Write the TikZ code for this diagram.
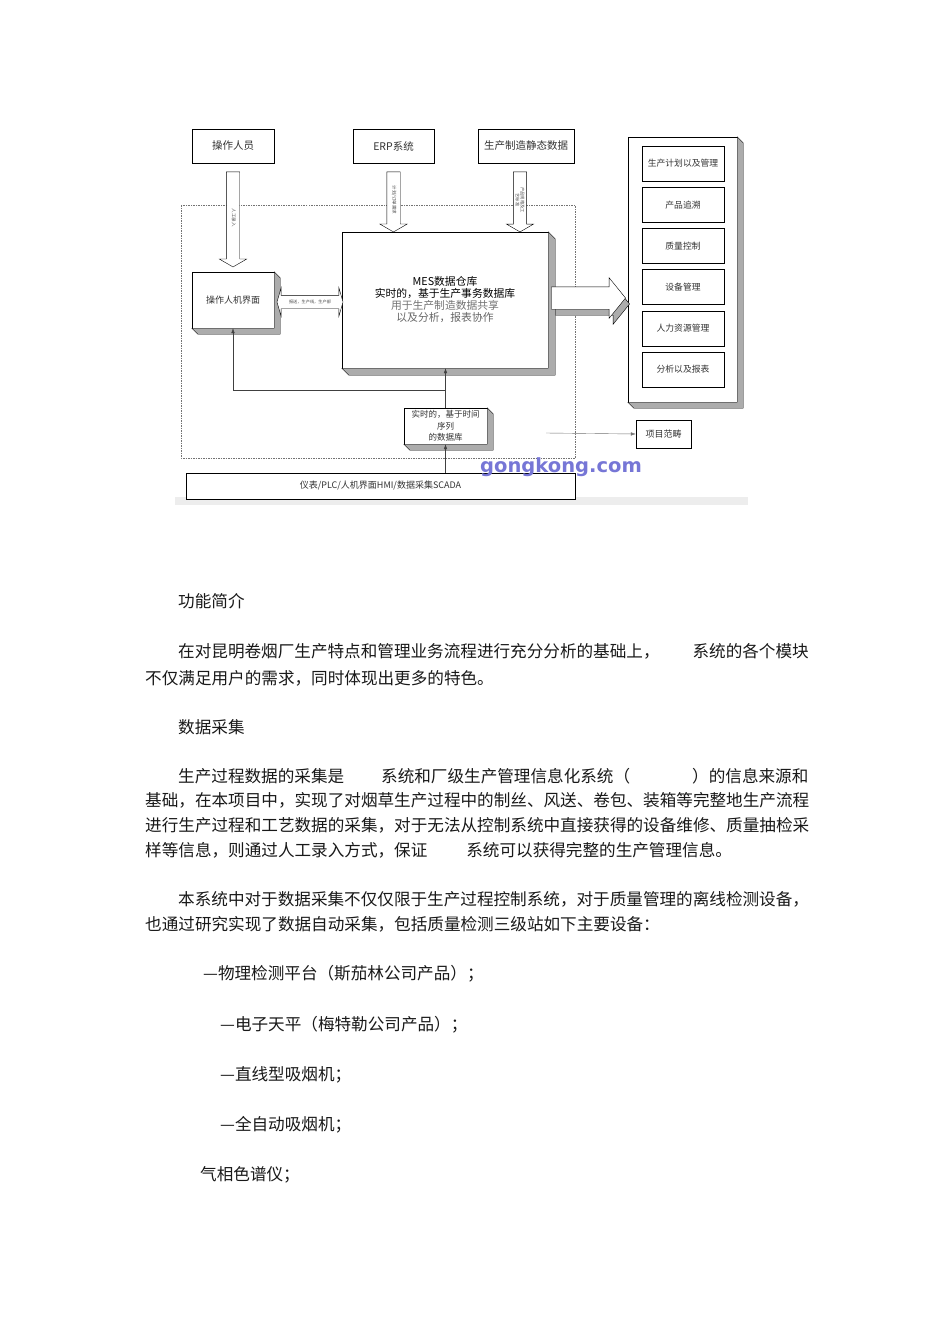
\documentclass[tikz,border=0pt]{standalone}
\usepackage{fontspec}
\setmainfont{Noto Sans CJK SC}
\newfontfamily\wmfont{DejaVu Sans}
\usetikzlibrary{
  calc, % Koordinatenrechnung
  positioning,
  shapes.arrows, % Blockpfeile
  shadows, % Schatten am grossen Pfeil
  arrows.meta % Pfeilspitzen
}
\definecolor{wmblue}{RGB}{118,118,214}

% Kasten mit Tiefe (rechts und unten)
\newcommand\slab[2][6pt]{%
  \filldraw[fill=gray!65, thin] (#2.north east) -- ++(#1,-#1)
    |- ($(#2.south west)+(#1,-#1)$) -- (#2.south west) -- (#2.south east) -- cycle;}

\begin{document}
\begin{tikzpicture}[
    x=1pt, y=-1pt, % Pixelraster, y nach unten
    >={Latex[length=5pt,width=3.5pt]}, % Standard-Pfeilspitze
    box/.style={draw, thin, fill=white, inner sep=0pt, text=black!80},
    topbox/.style={box, minimum height=34pt, font=\fontsize{10.5}{12}\selectfont},
    modbox/.style={box, minimum width=82pt, minimum height=35pt, font=\fontsize{8.8}{10}\selectfont},
    hollow/.style={single arrow, draw, thin, fill=white, inner xsep=0pt, inner ysep=4.5pt,
      single arrow head extend=7pt, single arrow tip angle=120,
      text height=3pt, text depth=1pt, font=\fontsize{4.5}{5}\selectfont, text=black!70},
    feed/.style={->, thin, black!75},
    body/.style={anchor=west, inner sep=0pt, font=\fontsize{16.6}{20}\selectfont, text=black!90},
  ]

  % Rahmen
  \useasboundingbox (0,0) rectangle (950,1344);
  \fill[white] (0,0) rectangle (950,1344);
  \fill[black!7] (175,497) rectangle (748,505);
  \draw[black!55, dash pattern=on 1.5pt off 1pt] (181,205) rectangle (575,458);

  % Quellen oben
  \node[topbox, minimum width=82pt] (ops) at (233,146) {操作人员};
  \node[topbox, minimum width=81pt] (erp) at (393.5,146.5) {ERP系统};
  \node[topbox, minimum width=96pt] (stat) at (526,146) {生产制造静态数据};

  % Kaesten mit Tiefe
  \node[box, minimum width=82pt, minimum height=56pt, font=\fontsize{9}{10}\selectfont] (hmi) at (233,300) {操作人机界面};
  \slab{hmi}
  \node[box, minimum width=206pt, minimum height=136pt, align=center, text=black,
    font=\fontsize{10.8}{12}\selectfont] (mes) at (445,300)
    {MES数据仓库\\实时的，基于生产事务数据库\\{\color{black!55}用于生产制造数据共享}\\{\color{black!60}以及分析，报表协作}};
  \slab[7pt]{mes}
  \node[box, minimum width=83pt, minimum height=36pt, align=center,
    font=\fontsize{8.5}{11.5}\selectfont] (tsdb) at (445.5,426) {实时的，基于时间\\序列\\的数据库};
  \slab{tsdb}
  \node[box, minimum width=109pt, minimum height=265pt] (panel) at (682.5,269.5) {};
  \slab{panel}

  % Module
  \foreach \t [count=\i from 0] in {生产计划以及管理, 产品追溯, 质量控制, 设备管理, 人力资源管理, 分析以及报表}
    \node[modbox] (mod\i) at (683, 163.5+41.2*\i) {\t};

  % Unten
  \node[box, minimum width=389pt, minimum height=26pt, font=\fontsize{9}{10}\selectfont] (scada) at (380.5,486) {仪表/PLC/人机界面HMI/数据采集SCADA};
  \node[box, minimum width=55pt, minimum height=28pt, font=\fontsize{9}{10}\selectfont] (scope) at (663.5,434) {项目范畴};

  % Blockpfeile
  \node[hollow, rotate=-90, minimum height=95pt] (opsarrow) at (ops.south |- 0,217.5) {人工录入};
  \node[hollow, rotate=-90, minimum height=60pt] (erparrow) at (erp.south |- 0,200) {计划/订单需求};
  \node[hollow, rotate=-90, minimum height=60pt, text height=, text depth=, inner ysep=2pt,
    align=center, font=\fontsize{4.3}{4.8}\selectfont] (statarrow) at (520,200) {产品规格及工\\艺标准};
  \node[double arrow, draw, thin, fill=white, inner xsep=0pt, inner ysep=4.5pt,
    double arrow head extend=7.5pt, double arrow tip angle=148, minimum height=66pt,
    text height=3pt, text depth=1pt, font=\fontsize{4.2}{5}\selectfont, text=black!70]
    (hmiarrow) at ($(hmi.east)!.5!(mes.west)+(2,2)$) {报送，生产线，生产部};
  \node[single arrow, draw, thin, fill=white, inner sep=0pt, inner ysep=11pt,
    text height=0pt, text depth=0pt, single arrow head extend=9pt, single arrow tip angle=102,
    minimum height=74pt,
    drop shadow={shadow xshift=4pt, shadow yshift=-6pt, opacity=1, fill=gray!65, draw=black, thin}]
    (bigarrow) at (584,298) {};

  % Verbindungen
  \coordinate (fork) at (tsdb.north |- 0,390);
  \coordinate (scopestart) at (546,433);
  \draw[feed] (tsdb.north) -- (tsdb.north |- mes.south);
  \draw[feed] (fork) -| (hmi.south);
  \draw[feed] (tsdb.south |- scada.north) -- (tsdb.south);
  \draw[feed, black!55] (scopestart) -- (scope.west);

  % Wasserzeichen
  \node[font=\wmfont\bfseries\fontsize{19.5}{22}\selectfont, text=wmblue, inner sep=0pt] (wm) at (561,467) {gongkong.com};

  % Fliesstext
  \node[body] (t1) at (178,601) {功能简介};
  \node[body] (t2) at (178,651) {在对昆明卷烟厂生产特点和管理业务流程进行充分分析的基础上，\hspace*{33pt}系统的各个模块};
  \node[body] (t3) at (145,678) {不仅满足用户的需求，同时体现出更多的特色。};
  \node[body] (t4) at (178,727) {数据采集};
  \node[body] (t5) at (178,776) {生产过程数据的采集是\hspace*{37pt}系统和厂级生产管理信息化系统（\hspace*{62pt}）的信息来源和};
  \node[body] (t6) at (145,800) {基础，在本项目中，实现了对烟草生产过程中的制丝、风送、卷包、装箱等完整地生产流程};
  \node[body] (t7) at (145,825) {进行生产过程和工艺数据的采集，对于无法从控制系统中直接获得的设备维修、质量抽检采};
  \node[body] (t8) at (145,850) {样等信息，则通过人工录入方式，保证\hspace*{39pt}系统可以获得完整的生产管理信息。};
  \node[body] (t9) at (178,899) {本系统中对于数据采集不仅仅限于生产过程控制系统，对于质量管理的离线检测设备，};
  \node[body] (t10) at (145,924) {也通过研究实现了数据自动采集，包括质量检测三级站如下主要设备：};
  \node[body] (t11) at (203,974) {—物理检测平台（斯茄林公司产品）；};
  \node[body] (t12) at (220,1025) {—电子天平（梅特勒公司产品）；};
  \node[body] (t13) at (220,1075) {—直线型吸烟机；};
  \node[body] (t14) at (220,1125) {—全自动吸烟机；};
  \node[body] (t15) at (200,1175) {气相色谱仪；};
\end{tikzpicture}
\end{document}
